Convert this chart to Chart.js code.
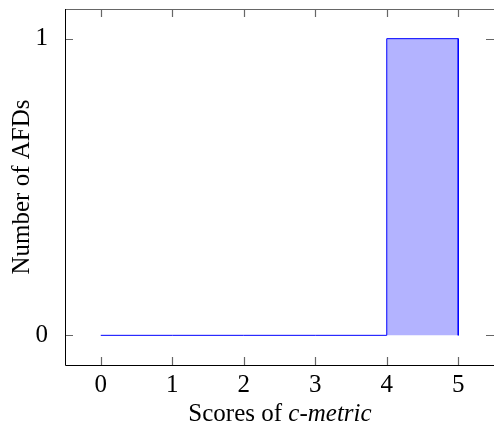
<!DOCTYPE html>
<html>
<head>
<meta charset="utf-8">
<script src="https://cdn.jsdelivr.net/npm/chart.js@4"></script>
<style>
  html, body { margin: 0; padding: 0; background: #fff; overflow: hidden; }
  #wrap { width: 494px; height: 423px; }
</style>
</head>
<body>
<div id="wrap"><canvas id="histChart" width="494" height="423"></canvas></div>
<script>
// histogram bins of the c-metric scores
const binEdges = [0, 1, 2, 3, 4, 5];
const binCounts = [0, 0, 0, 0, 1];
const xTickValues = [0, 1, 2, 3, 4, 5];
const yTickValues = [0, 1];

const FONT = '"Liberation Serif", "DejaVu Serif", serif';
const FS = 25;

// outline of the ybar interval plot built from the bins
const outline = [];
binCounts.forEach(function (c, i) {
  outline.push({ x: binEdges[i], y: 0 });
  outline.push({ x: binEdges[i], y: c });
  outline.push({ x: binEdges[i + 1], y: c });
  outline.push({ x: binEdges[i + 1], y: 0 });
});

const pgfAxis = {
  id: 'pgfAxis',
  afterDraw(chart) {
    const ctx = chart.ctx;
    const a = chart.chartArea;
    const xs = chart.scales.x, ys = chart.scales.y;
    ctx.save();
    // inward tick marks on every side
    ctx.strokeStyle = '#666';
    ctx.lineWidth = 1.2;
    xTickValues.forEach(v => {
      const px = Math.round(xs.getPixelForValue(v)) + 0.5;
      ctx.beginPath();
      ctx.moveTo(px, a.bottom); ctx.lineTo(px, a.bottom - 8);
      ctx.moveTo(px, a.top); ctx.lineTo(px, a.top + 8);
      ctx.stroke();
    });
    yTickValues.forEach(v => {
      const py = Math.round(ys.getPixelForValue(v)) + 0.5;
      ctx.beginPath();
      ctx.moveTo(a.left, py); ctx.lineTo(a.left + 8, py);
      ctx.moveTo(a.right, py); ctx.lineTo(a.right - 8, py);
      ctx.stroke();
    });
    // top frame line
    ctx.lineWidth = 1;
    ctx.beginPath();
    ctx.moveTo(a.left, a.top + 0.5); ctx.lineTo(a.right, a.top + 0.5);
    ctx.stroke();
    // left and bottom axis lines
    ctx.strokeStyle = '#000';
    ctx.beginPath();
    ctx.moveTo(a.left + 0.5, a.top); ctx.lineTo(a.left + 0.5, a.bottom + 0.5);
    ctx.lineTo(a.right, a.bottom + 0.5);
    ctx.stroke();

    // axis titles
    ctx.fillStyle = '#000';
    ctx.textBaseline = 'alphabetic';
    const p1 = 'Scores of ', p2 = 'c-metric';
    ctx.font = FS + 'px ' + FONT;
    const w1 = ctx.measureText(p1).width;
    ctx.font = 'italic ' + FS + 'px ' + FONT;
    const w2 = ctx.measureText(p2).width;
    const cx = 280;
    let sx = cx - (w1 + w2) / 2;
    ctx.font = FS + 'px ' + FONT;
    ctx.textAlign = 'left';
    ctx.fillText(p1, sx, 421);
    ctx.font = 'italic ' + FS + 'px ' + FONT;
    ctx.fillText(p2, sx + w1, 421);

    ctx.translate(29, 187);
    ctx.rotate(-Math.PI / 2);
    ctx.font = FS + 'px ' + FONT;
    ctx.textAlign = 'center';
    ctx.fillText('Number of AFDs', 0, 0);
    ctx.restore();
  }
};

new Chart(document.getElementById('histChart').getContext('2d'), {
  type: 'line',
  data: {
    datasets: [{
      data: outline,
      borderColor: '#0000ff',
      backgroundColor: 'rgb(179,179,255)',
      borderWidth: 1,
      fill: 'origin',
      pointRadius: 0,
      tension: 0
    }]
  },
  options: {
    responsive: false,
    animation: false,
    layout: { padding: { top: 9, right: 0, left: 0, bottom: 0 } },
    plugins: { legend: { display: false }, tooltip: { enabled: false } },
    scales: {
      x: {
        type: 'linear',
        min: -0.5,
        max: 5.5,
        afterBuildTicks: s => { s.ticks = xTickValues.map(v => ({ value: v })); },
        afterFit: s => { s.height = 58; s.paddingLeft = 0; s.paddingRight = 0; },
        grid: { display: false },
        border: { display: false },
        ticks: { color: '#000', font: { family: FONT, size: FS }, padding: -3, maxRotation: 0 }
      },
      y: {
        min: -0.1,
        max: 1.1,
        afterBuildTicks: s => { s.ticks = yTickValues.map(v => ({ value: v })); },
        afterFit: s => { s.width = 65; s.paddingTop = 0; s.paddingBottom = 0; },
        grid: { display: false },
        border: { display: false },
        ticks: { color: '#000', font: { family: FONT, size: FS }, padding: 9 }
      }
    }
  },
  plugins: [pgfAxis]
});
</script>
</body>
</html>
